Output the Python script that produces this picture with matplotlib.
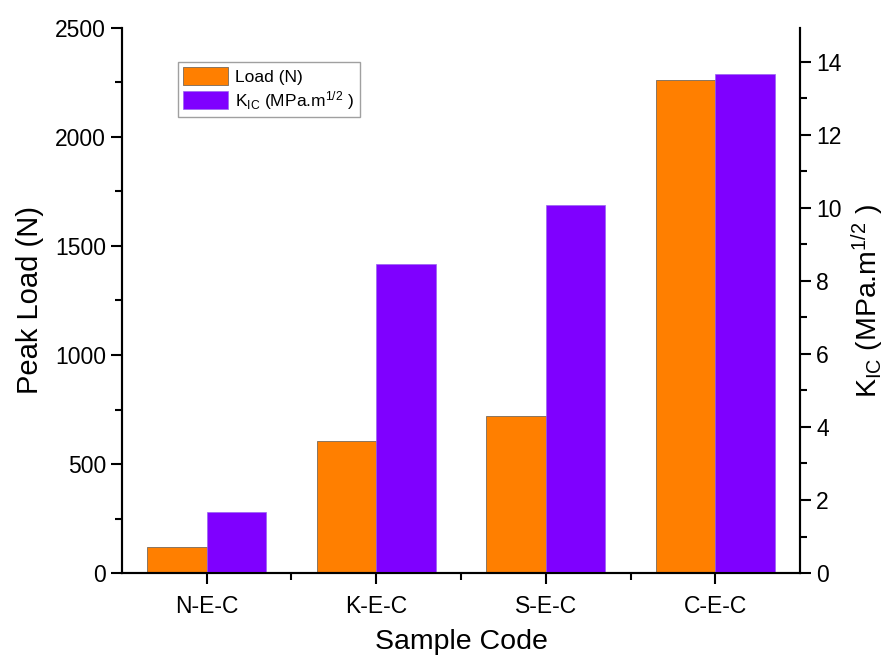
import numpy as np
import matplotlib.pyplot as plt
from matplotlib.ticker import MultipleLocator

plt.rcParams['font.family'] = ['Liberation Sans', 'DejaVu Sans']
plt.rcParams['mathtext.fontset'] = 'custom'
plt.rcParams['mathtext.rm'] = 'Liberation Sans'
plt.rcParams['mathtext.it'] = 'Liberation Sans:italic'

# data
samples = ['N-E-C', 'K-E-C', 'S-E-C', 'C-E-C']
load = [118, 605, 720, 2262]          # peak load (N)
kic = [1.67, 8.46, 10.08, 13.67]      # K_IC (MPa.m^1/2)

orange = '#FF7F00'
purple = '#7F00FF'

x = np.arange(len(samples))
w = 0.35

fig = plt.figure(figsize=(8.87, 6.6), dpi=100)
ax = fig.add_axes([0.1375, 0.1318, 0.7645, 0.8258])
ax2 = ax.twinx()

b1 = ax.bar(x - w/2, load, w, color=orange, edgecolor='#8a7560', linewidth=0.7,
            label='Load (N)')
b2 = ax2.bar(x + w/2, kic, w, color=purple, edgecolor='#9a66ee', linewidth=0.5,
             label=r'K$_{\mathrm{IC}}$ (MPa.m$^{1/2}$ )')

ax.set_xlim(-0.5, 3.5)
ax.set_ylim(0, 2500)
ax2.set_ylim(0, 14.93)

ax.set_xticks(x)
ax.set_xticklabels(samples)
ax.set_xticks([0.5, 1.5, 2.5], minor=True)
ax.yaxis.set_major_locator(MultipleLocator(500))
ax.yaxis.set_minor_locator(MultipleLocator(250))
ax2.yaxis.set_major_locator(MultipleLocator(2))
ax2.yaxis.set_minor_locator(MultipleLocator(1))

for a in (ax, ax2):
    a.spines['top'].set_visible(False)
    for s in ('left', 'right', 'bottom'):
        a.spines[s].set_linewidth(1.5)
    a.tick_params(which='major', direction='out', length=8, width=1.5, labelsize=16.5)
    a.tick_params(which='minor', direction='out', length=5, width=1.5)
ax.tick_params(axis='x', pad=8)

ax.set_xlabel('Sample Code', fontsize=20.5, labelpad=8)
ax.set_ylabel('Peak Load (N)', fontsize=21, labelpad=8)
ax2.set_ylabel(r'K$_{\mathrm{IC}}$ (MPa.m$^{1/2}$ )', fontsize=20.5, labelpad=6)

ax.legend([b1, b2], [b1.get_label(), b2.get_label()], loc='upper left',
          bbox_to_anchor=(0.07, 0.953), fontsize=12.5, frameon=True, fancybox=False,
          edgecolor='#888888', handlelength=2.6, handleheight=1.2,
          borderpad=0.3, labelspacing=0.2, handletextpad=0.4)

fig.savefig('out.png', dpi=100)
